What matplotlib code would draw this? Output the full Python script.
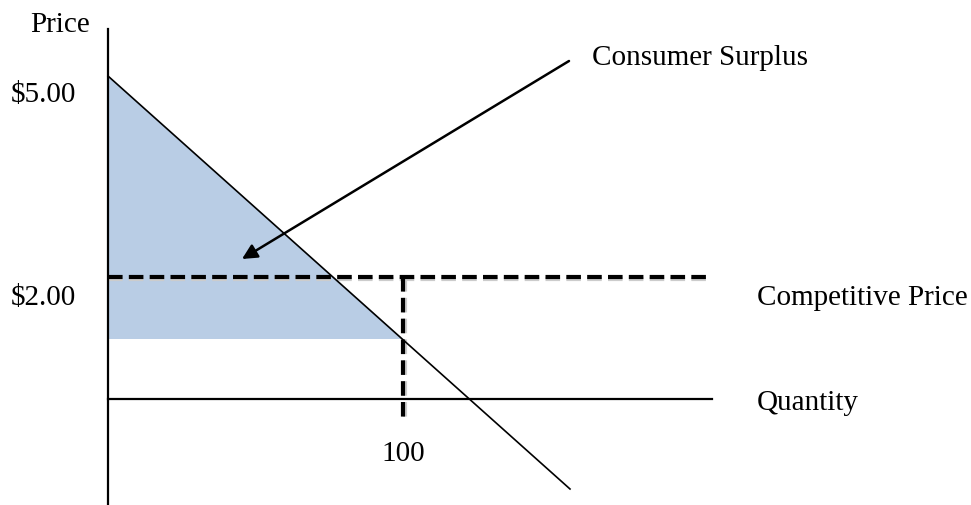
import matplotlib
matplotlib.use("Agg")
import matplotlib.pyplot as plt
from matplotlib.patches import Polygon

# diagram drawn in a canvas coordinate system (x right, y down)
axis_x = [108, 108]
axis_y = [30, 506]
qty_axis_x = [108, 712]
qty_axis_y = [400, 400]

demand_x = [108, 570]
demand_y = [77, 490]

surplus_x = [108, 403, 108]
surplus_y = [77, 340, 340]

comp_price_x = [108, 712]
comp_price_y = [278, 278]
qty_drop_x = [403, 403]
qty_drop_y = [278, 418]

arrow_start = (569, 62)
arrow_end = (242, 260)

labels = [
    ("Price", 30, 32, "left"),
    ("$5.00", 11, 102, "left"),
    ("$2.00", 11, 305, "left"),
    ("100", 403, 461, "center"),
    ("Consumer Surplus", 592, 65, "left"),
    ("Competitive Price", 757, 305, "left"),
    ("Quantity", 757, 410, "left"),
]


def main() -> None:
    plt.rcParams["font.family"] = ["Liberation Serif", "DejaVu Serif"]

    fig = plt.figure(figsize=(9.71, 5.06), dpi=100)
    ax = fig.add_axes([0, 0, 1, 1])
    ax.set_xlim(0, 971)
    ax.set_ylim(506, 0)
    ax.axis("off")

    ax.add_patch(Polygon(list(zip(surplus_x, surplus_y)), closed=True,
                         facecolor="#b9cde5", edgecolor="none", zorder=1))

    ax.plot(axis_x, axis_y, color="black", lw=1.6, zorder=3)
    ax.plot(qty_axis_x, qty_axis_y, color="black", lw=1.6, zorder=3)
    ax.plot(demand_x, demand_y, color="black", lw=1.2, zorder=4)

    dash = (0, (3.5, 1.5))
    # faint shadow under the dashed lines
    ax.plot(comp_price_x, [v + 2 for v in comp_price_y], color="#cccccc",
            lw=3.0, ls=dash, dash_capstyle="butt", zorder=2)
    ax.plot([v + 2 for v in qty_drop_x], qty_drop_y, color="#cccccc",
            lw=3.0, ls=dash, dash_capstyle="butt", zorder=2)
    ax.plot(comp_price_x, comp_price_y, color="black", lw=3.0, ls=dash,
            dash_capstyle="butt", zorder=5)
    ax.plot(qty_drop_x, qty_drop_y, color="black", lw=3.0, ls=dash,
            dash_capstyle="butt", zorder=5)

    ax.annotate("", xy=arrow_end, xytext=arrow_start,
                arrowprops=dict(arrowstyle="-|>,head_length=0.9,head_width=0.45",
                                color="black", lw=1.8, shrinkA=0, shrinkB=0),
                zorder=6)

    for text, x, y, ha in labels:
        ax.text(x, y, text, fontsize=21, ha=ha, va="baseline", color="black")

    fig.savefig("out.png", dpi=100)
    plt.close(fig)


if __name__ == "__main__":
    main()
